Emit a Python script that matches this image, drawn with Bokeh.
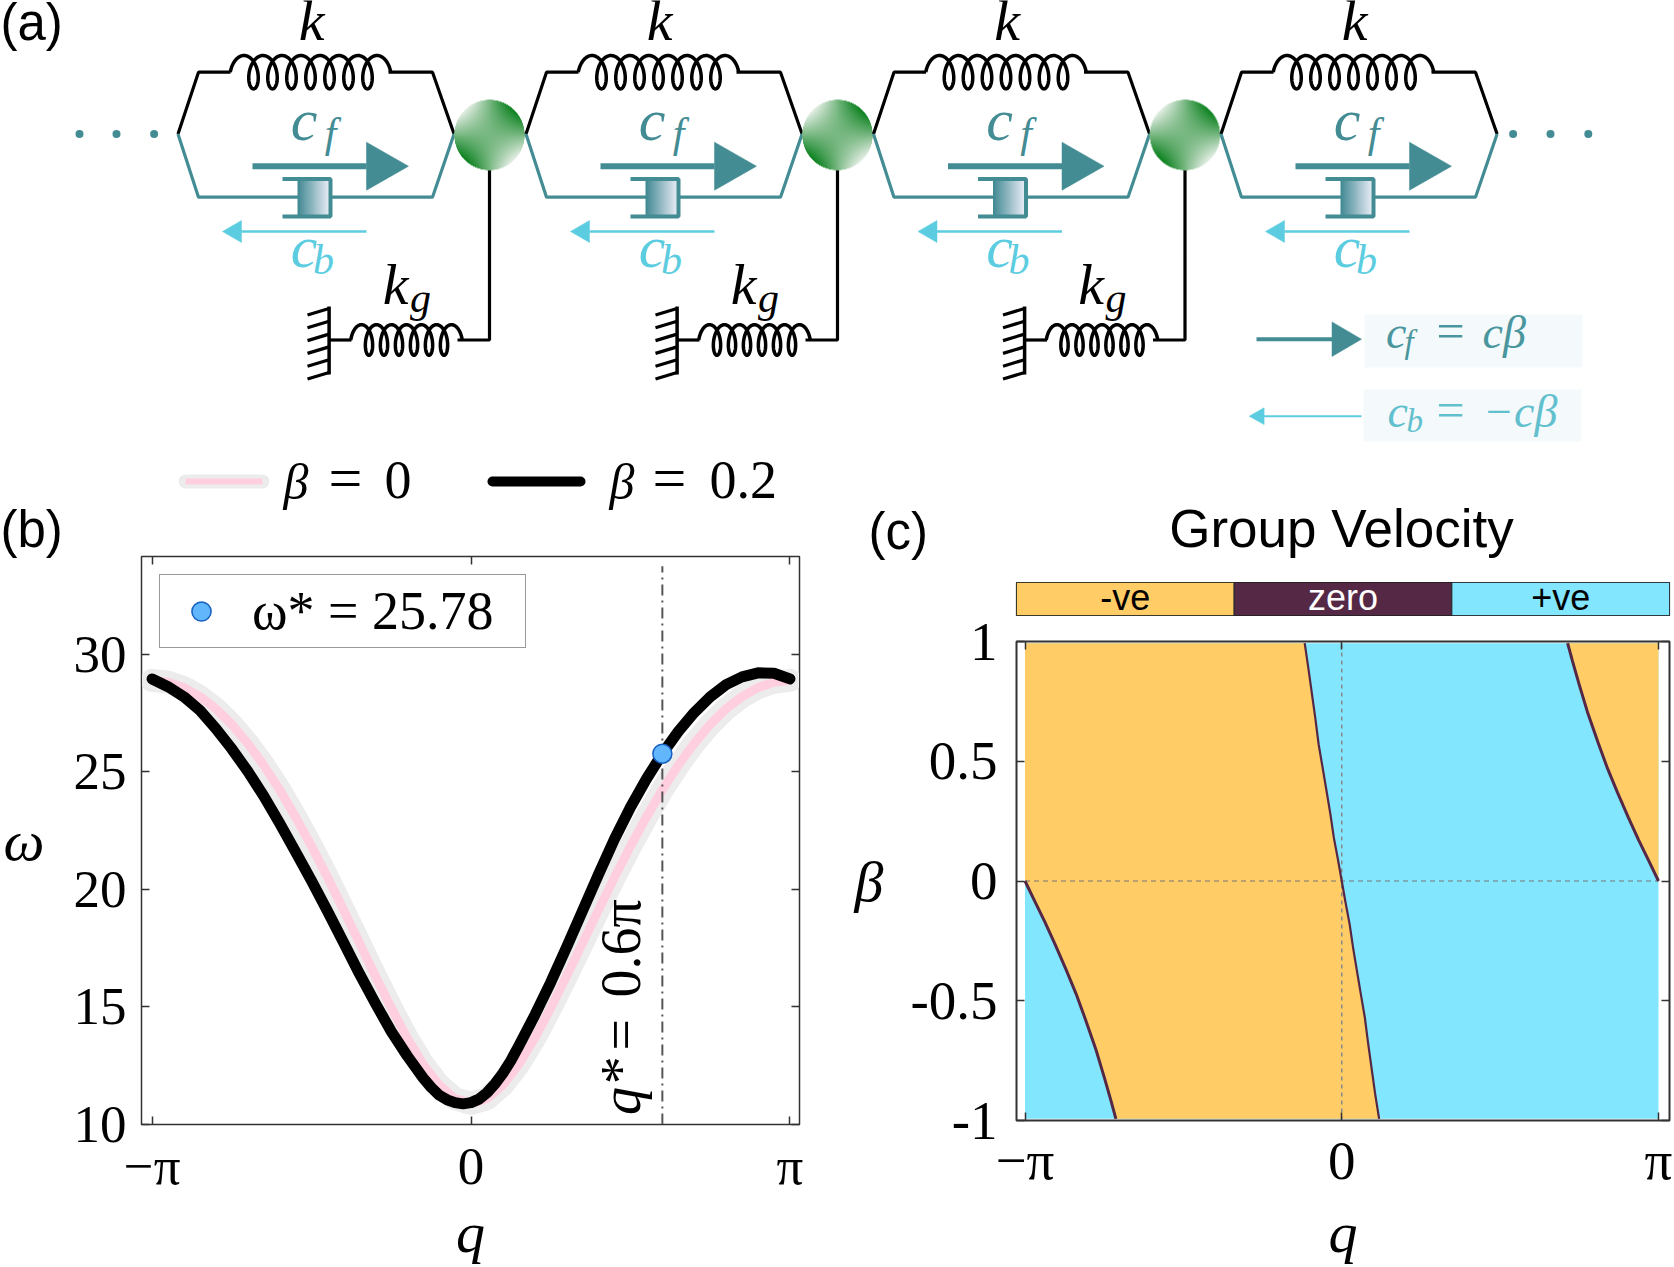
import numpy as np
from bokeh.plotting import figure
from bokeh.layouts import column, row
from bokeh.embed import file_html
from bokeh.resources import INLINE
from bokeh.core.properties import value
from bokeh.models import FixedTicker, Legend, LegendItem, LinearAxis, Range1d

PI = np.pi

# ------------------------------ data
q_beta0 = [-1, -.95, -.9, -.85, -.8, -.75, -.7, -.65, -.6, -.55, -.5, -.45, -.4, -.35, -.3, -.25, -.2, -.15, -.1, -.05,
           0, .05, .1, .15, .2, .25, .3, .35, .4, .45, .5, .55, .6, .65, .7, .75, .8, .85, .9, .95, 1]
w_beta0 = [28.9, 28.82, 28.59, 28.21, 27.69, 27.02, 26.22, 25.29, 24.24, 23.08, 21.84, 20.52, 19.14, 17.73, 16.32,
           14.96, 13.68, 12.56, 11.68, 11.1, 10.9, 11.1, 11.68, 12.56, 13.68, 14.96, 16.32, 17.73, 19.14, 20.52,
           21.84, 23.08, 24.24, 25.29, 26.22, 27.02, 27.69, 28.21, 28.59, 28.82, 28.9]
q_beta02 = [-1, -.95, -.9, -.85, -.8, -.75, -.7, -.65, -.6, -.55, -.5, -.45, -.4, -.35, -.3, -.25, -.2, -.15,
            -.125, -.1, -.075, -.05, -.025, 0, .025, .05, .075, .1, .125, .15, .2, .25, .3, .35, .4, .45, .5, .55,
            .6, .65, .7, .75, .8, .85, .9, .95, 1]
w_beta02 = [28.96, 28.63, 28.2, 27.62, 26.85, 25.98, 25.03, 23.98, 22.82, 21.6, 20.37, 19.08, 17.75, 16.42, 15.16,
            13.96, 12.92, 11.98, 11.58, 11.25, 11.05, 10.93, 10.88, 10.93, 11.08, 11.35, 11.73, 12.18, 12.72, 13.35,
            14.65, 16.05, 17.55, 19.1, 20.65, 22.15, 23.5, 24.7, 25.78, 26.72, 27.53, 28.2, 28.72, 29.05, 29.22,
            29.2, 28.96]
q_star = 0.6
w_star = 25.78

q_central = [-.117, -.105, -.094, -.083, -.073, -.06, -.048, -.036, -.025, -.012, 0,
             .012, .025, .036, .048, .06, .073, .083, .094, .105, .118]
b_central = [.993, .885, .78, .675, .571, .47, .376, .28, .181, .09, 0,
             -.09, -.181, -.28, -.376, -.47, -.571, -.675, -.78, -.885, -.993]
q_right = [.713, .728, .749, .777, .81, .839, .871, .905, .937, .969, 1]
b_right = [.993, .92, .823, .70, .575, .47, .368, .265, .172, .085, 0]
q_left = [-1, -.969, -.937, -.905, -.871, -.839, -.81, -.777, -.749, -.728, -.713]
b_left = [0, -.085, -.172, -.265, -.368, -.47, -.575, -.70, -.823, -.92, -.993]

strip_labels = ["-ve", "zero", "+ve"]
strip_colors = ["#FFCC66", "#552845", "#82E6FF"]
strip_text = ["#000000", "#FFFFFF", "#000000"]

SERIF = "Liberation Serif"
SANS = "Liberation Sans"
TEAL = "#438C94"
LIGHT = "#5CCDE0"
BL = 0.35  # the text glyph sets its baseline this many ems low

# ------------------------------ schematic, in page pixels
SPLIT = 508
TOP_H = 560
top = figure(width=1674, height=TOP_H, x_range=Range1d(0, 1674), y_range=Range1d(TOP_H, 0),
             output_backend="svg", toolbar_location=None, min_border=0, outline_line_color=None)
top.axis.visible = False
top.grid.visible = False


def txt(fig, x, y, s, size, color="#000000", italic=True, font=SERIF, align="left"):
    fig.text([x], [y - BL * size], text=[s], text_font=value(font), text_font_size=f"{size}px",
             text_font_style="italic" if italic else "normal", text_color=color,
             text_align=align, text_baseline="alphabetic")


def coil(x0, yc, pitch, amp, half, loops):
    t = np.linspace(-PI / 2, 2 * PI * loops + PI / 2, 60 * loops)
    return x0 + pitch * t / (2 * PI) + amp * np.sin(t), yc - half * np.cos(t)


def arrow(fig, x0, x1, tip, y, half, lw, color):
    fig.line([x0, x1], [y, y], line_color=color, line_width=lw)
    fig.patch([x1, tip, x1], [y - half, y, y + half], fill_color=color, line_color=color, line_width=0.5)


def ball_rgba():
    n = 144
    u = np.linspace(-1, 1, n)
    dx, dy = np.meshgrid(u, u)
    r = np.hypot(dx, dy)
    t = np.clip(0.5 - dx * dy * 1.0, 0, 1)[..., None]
    light = np.array([232, 240, 232.0])
    dark = np.array([8, 128, 28.0])
    rgb = light * (1 - t) + dark * t
    a = np.clip((1 - r) * n / 2, 0, 1) * 255
    img = np.zeros((n, n), dtype=np.uint32)
    v = img.view(dtype=np.uint8).reshape((n, n, 4))
    v[..., :3] = rgb.astype(np.uint8)
    v[..., 3] = a.astype(np.uint8)
    return img


def damper_rgba():
    n = 64
    img = np.zeros((1, n), dtype=np.uint32)
    v = img.view(dtype=np.uint8).reshape((1, n, 4))
    s = np.linspace(0, 1, n)[..., None]
    v[0, :, :3] = (np.array([70, 140, 150.0]) * (1 - s) + np.array([234, 237, 247.0]) * s).astype(np.uint8)
    v[0, :, 3] = 255
    return img


for i, dx in enumerate([0, 348, 695.5, 1043]):
    # black top branch with spring
    top.line([dx + 177.5, dx + 198, dx + 230], [133.5, 71.7, 71.7], line_color="#000000", line_width=3.2)
    top.line([dx + 388, dx + 432, dx + 453.6], [71.7, 71.7, 133.5], line_color="#000000", line_width=3.2)
    sx, sy = coil(dx + 243.5, 71.7, 19, 9, 16.7, 7)
    top.line(sx, sy, line_color="#000000", line_width=3.5)
    # teal lower branch with damper
    top.line([dx + 177.5, dx + 198, dx + 298], [133.5, 196.7, 196.7], line_color=TEAL, line_width=3.2)
    top.line([dx + 330, dx + 432, dx + 453.6], [196.7, 196.7, 133.5], line_color=TEAL, line_width=3.2)
    top.image_rgba(image=[damper_rgba()], x=dx + 298, y=180, dw=31, dh=35)
    top.line([dx + 282, dx + 330, dx + 330, dx + 282], [178.5, 178.5, 216, 216], line_color=TEAL, line_width=4)
    top.line([dx + 298, dx + 298], [178.5, 216], line_color=TEAL, line_width=2)
    arrow(top, dx + 252, dx + 366, dx + 408, 165.7, 24, 6, TEAL)
    arrow(top, dx + 366, dx + 241, dx + 222, 231, 11, 2.5, LIGHT)
    txt(top, dx + 311, 40, "k", 58, align="center")
    txt(top, dx + 303.6, 140, "c", 60, TEAL, align="center")
    txt(top, dx + 330, 147, "f", 42, TEAL, align="center")
    txt(top, dx + 303.6, 267, "c", 60, LIGHT, align="center")
    txt(top, dx + 323, 274, "b", 42, LIGHT, align="center")
    if i < 3:
        top.line([dx + 489, dx + 489, dx + 457], [165, 339.5, 339.5], line_color="#000000", line_width=3.2)
        gx, gy = coil(dx + 361, 339.5, 15, 7, 15.3, 6)
        top.line(gx, gy, line_color="#000000", line_width=3.5)
        top.line([dx + 328.6, dx + 351], [339.5, 339.5], line_color="#000000", line_width=3.2)
        top.line([dx + 328.6, dx + 328.6], [306, 374], line_color="#000000", line_width=3.5)
        for k in range(6):
            top.line([dx + 328.6, dx + 307], [308 + 12.8 * k, 314.5 + 12.8 * k], line_color="#000000", line_width=3.2)
        top.image_rgba(image=[ball_rgba()], x=dx + 453.5, y=99, dw=71, dh=71)
        txt(top, dx + 395, 304, "k", 58, align="center")
        txt(top, dx + 420, 312, "g", 42, align="center")

for xs in ([79, 116, 153.6], [1512.6, 1550, 1587.8]):
    top.scatter(xs, [133.5] * 3, size=8, color=TEAL, line_color=None)

txt(top, 0, 40, "(a)", 51, italic=False, font=SANS)
txt(top, 0, 546.4, "(b)", 51, italic=False, font=SANS)
txt(top, 868, 548.5, "(c)", 51, italic=False, font=SANS)
txt(top, 1341, 547, "Group Velocity", 53, italic=False, font=SANS, align="center")

# key at lower right
top.quad(left=[1364], right=[1582], top=[314], bottom=[367], fill_color="#F4FAFB", line_color=None)
top.quad(left=[1363], right=[1581], top=[389], bottom=[441], fill_color="#F4FAFB", line_color=None)
arrow(top, 1256, 1331.5, 1361, 338.7, 17.3, 4, TEAL)
arrow(top, 1361, 1263.6, 1248.6, 415.7, 8.4, 2, LIGHT)
KT, KL = "#4A969E", "#62C0CE"
txt(top, 1385.6, 348, "c", 46, KT)
txt(top, 1404, 353, "f", 33, KT)
txt(top, 1436, 348, "=", 50, KT, italic=False)
txt(top, 1482, 348, "cβ", 46, KT)
txt(top, 1387, 427, "c", 46, KL)
txt(top, 1406, 432, "b", 33, KL)
txt(top, 1436, 427, "=", 50, KL, italic=False)
txt(top, 1482.5, 427, "−cβ", 46, KL)

# legend of panel (b)
top.line([185, 262], [481, 481], line_color="#ECECEC", line_width=14, line_cap="round")
top.line([185, 262], [481, 481], line_color="#FFCFDF", line_width=6)
top.line([492, 580], [481, 481], line_color="#000000", line_width=10, line_cap="round")
txt(top, 283, 498.5, "β", 50)
txt(top, 328, 498.5, "=", 60, italic=False)
txt(top, 384, 498.5, "0", 54, italic=False)
txt(top, 609, 498.5, "β", 50)
txt(top, 652, 498.5, "=", 60, italic=False)
txt(top, 709, 498.5, "0.2", 54, italic=False)


# ------------------------------ shared axis styling
def style_axis(ax, size):
    ax.major_label_text_font = SERIF
    ax.major_label_text_font_size = f"{size}px"
    ax.major_label_text_color = "#000000"
    ax.axis_line_color = "#333333"
    ax.major_tick_line_color = "#333333"
    ax.major_tick_line_width = 1.5
    ax.major_tick_in = 8
    ax.major_tick_out = 0
    ax.minor_tick_line_color = None


def mirror_axes(fig, xticks, yticks):
    for side, ticks in (("above", xticks), ("right", yticks)):
        ax = LinearAxis(ticker=FixedTicker(ticks=ticks), major_label_overrides={t: "" for t in ticks},
                        major_label_text_font_size="1px", major_label_standoff=0,
                        axis_line_color="#333333", major_tick_line_color="#333333", major_tick_line_width=1.5,
                        major_tick_in=8, major_tick_out=0, minor_tick_line_color=None)
        fig.add_layout(ax, side)


def axis_title(ax, text, standoff, size=58, lh=0.8):
    ax.axis_label = text
    ax.axis_label_text_font = SERIF
    ax.axis_label_text_font_size = f"{size}px"
    ax.axis_label_text_font_style = "italic"
    ax.axis_label_text_color = "#000000"
    ax.axis_label_text_line_height = lh
    ax.axis_label_standoff = standoff


x_ticks = [-PI, 0.0, PI]
x_labels = {-PI: "−π", 0.0: "0", PI: "π"}

# ------------------------------ panel (b)
b = figure(width=850, height=1267 - SPLIT, x_range=Range1d(-3.246, 3.236), y_range=Range1d(10, 34.17),
           output_backend="svg", toolbar_location=None, min_border_left=140, min_border_right=51,
           min_border_top=556 - SPLIT, min_border_bottom=143, outline_line_color="#333333", outline_line_width=1.5,
           border_fill_color=None)
b.grid.visible = False
b.line(np.array(q_beta0) * PI, w_beta0, line_color="#ECECEC", line_width=23, line_cap="round", line_join="round")
b.line(np.array(q_beta0) * PI, w_beta0, line_color="#FFCFDF", line_width=9)
b.line([q_star * PI, q_star * PI], [10, 33.75], line_color="#555555", line_width=2, line_dash="11 5 2 5")
b.line(np.array(q_beta02) * PI, w_beta02, line_color="#000000", line_width=11, line_cap="round", line_join="round")
star = b.scatter([q_star * PI], [w_star], size=19, fill_color="#62B6FC", line_color="#1560C0", line_width=1.5)
for wpos, label, italic in ((10.4, "q*", "italic"), (13.15, "=", "normal"), (15.4, "0.6π", "normal")):
    b.text([.471 * PI], [wpos], text=[label], angle=PI / 2, text_font=value(SERIF), text_font_size="56px",
           text_font_style=italic, text_baseline="alphabetic", text_align="left", text_color="#000000")
style_axis(b.xaxis[0], 53)
style_axis(b.yaxis[0], 53)
b.xaxis.ticker = FixedTicker(ticks=x_ticks)
b.xaxis.major_label_overrides = x_labels
b.xaxis.major_label_standoff = 12
b.yaxis.ticker = FixedTicker(ticks=[10, 15, 20, 25, 30])
b.yaxis.major_label_standoff = 15
axis_title(b.xaxis[0], "q", 2)
axis_title(b.yaxis[0], "ω", 26)
b.yaxis[0].axis_label_orientation = "horizontal"
mirror_axes(b, x_ticks, [10, 15, 20, 25, 30])
b.add_layout(Legend(items=[LegendItem(label="ω* = 25.78", renderers=[star])], location=(18, 476),
                    label_text_font=SERIF, label_text_font_size="54px", label_text_color="#000000",
                    label_standoff=15, glyph_width=72, glyph_height=48, label_width=268,
                    padding=5, margin=0, spacing=0, label_height=58, border_line_color="#333333",
                    border_line_width=1.2, background_fill_alpha=1.0))

# ------------------------------ panel (c) header strip
head = figure(width=824, height=615 + 5 - SPLIT, x_range=strip_labels, y_range=Range1d(0, 1),
              output_backend="svg", toolbar_location=None, min_border_left=166, min_border_right=4,
              min_border_top=582 - SPLIT, min_border_bottom=5, outline_line_color="#222222", outline_line_width=1.2,
              border_fill_color=None)
head.axis.visible = False
head.grid.visible = False
head.vbar(x=strip_labels, top=[1, 1, 1], bottom=0, width=1, fill_color=strip_colors, line_color="#222222", line_width=1)
head.text(x=strip_labels, y=[.56, .56, .56], text=strip_labels, text_font=value(SANS), text_font_size="36px",
          text_color=strip_text, text_align="center", text_baseline="middle")

# ------------------------------ panel (c) map
c = figure(width=824, height=647, x_range=Range1d(-3.2259, 3.2507), y_range=Range1d(-1, 1),
           output_backend="svg", toolbar_location=None, min_border_left=164, min_border_right=5,
           min_border_top=21, min_border_bottom=147, outline_line_color="#333333", outline_line_width=2)
c.grid.visible = False
c.quad(left=[-PI], right=[PI], bottom=[-.993], top=[.993], fill_color="#82E6FF", line_color=None)
qo = np.concatenate([q_left, q_central[::-1], [-1]]) * PI
bo = np.concatenate([b_left, b_central[::-1], [.993]])
c.patch(qo, bo, fill_color="#FFCC66", line_color=None)
c.patch(np.concatenate([q_right, [1]]) * PI, np.concatenate([b_right, [.993]]), fill_color="#FFCC66", line_color=None)
c.line([0, 0], [-1, 1], line_color="#888888", line_width=1.5, line_dash="4 4")
c.line([-PI, PI], [0, 0], line_color="#777777", line_width=1.2, line_dash="5 4")
c.line(np.array(q_central) * PI, b_central, line_color="#552845", line_width=2.2)
c.line(np.array(q_right) * PI, b_right, line_color="#552845", line_width=3)
c.line(np.array(q_left) * PI, b_left, line_color="#552845", line_width=3)
style_axis(c.xaxis[0], 55)
style_axis(c.yaxis[0], 55)
c.xaxis.ticker = FixedTicker(ticks=x_ticks)
c.xaxis.major_label_overrides = x_labels
c.xaxis.major_label_standoff = 9
c.yaxis.ticker = FixedTicker(ticks=[-1, -.5, 0, .5, 1])
c.yaxis.major_label_overrides = {-1: "-1", -.5: "-0.5", 0: "0", .5: "0.5", 1: "1"}
c.yaxis.major_label_standoff = 19
axis_title(c.xaxis[0], "q", 6)
axis_title(c.yaxis[0], "β", 24)
c.yaxis[0].axis_label_orientation = "horizontal"
mirror_axes(c, x_ticks, [-1, -.5, 0, .5, 1])

page = column(top, row(b, column(head, c, spacing=0), spacing=0, margin=(SPLIT - TOP_H, 0, 0, 0)), spacing=0)
open("out.html", "w").write(file_html(page, INLINE))
